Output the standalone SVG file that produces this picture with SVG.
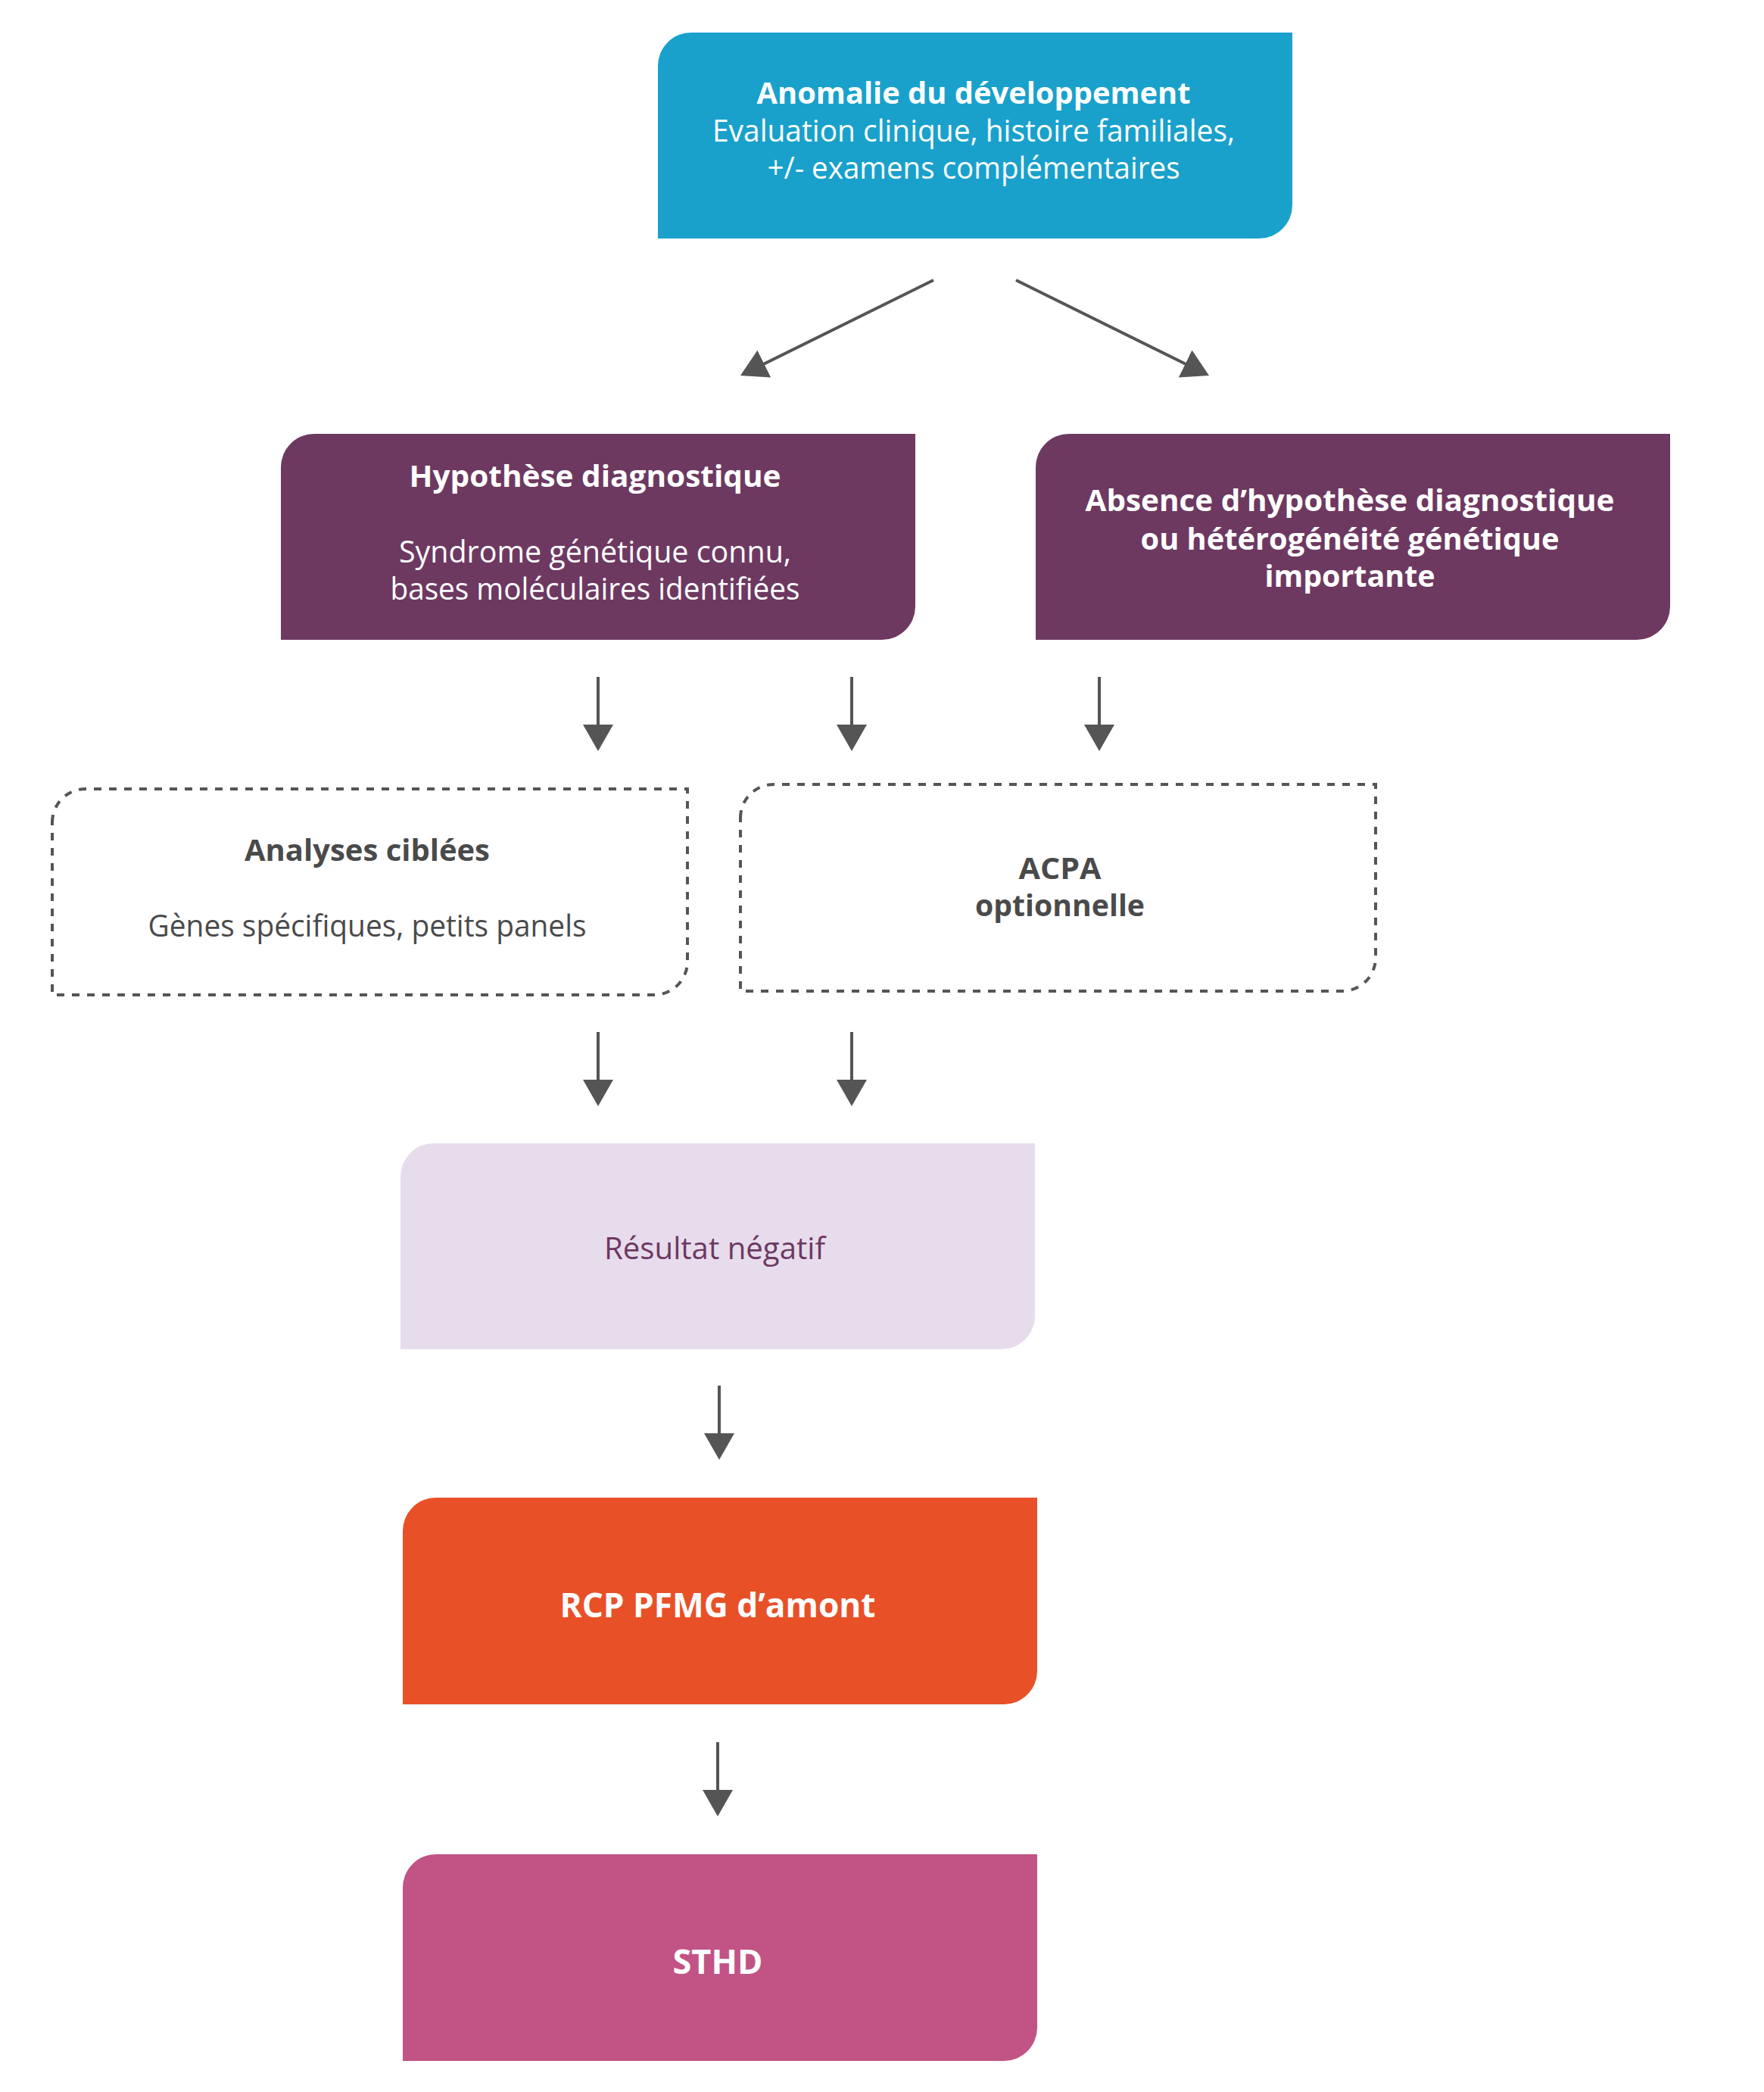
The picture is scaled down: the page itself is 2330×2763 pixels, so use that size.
<svg xmlns="http://www.w3.org/2000/svg" width="2330" height="2763" viewBox="0 0 2330 2763">
<defs>
<marker id="arr" markerUnits="userSpaceOnUse" viewBox="0 0 35 40" refX="31" refY="20" markerWidth="35" markerHeight="40" orient="auto">
<path d="M0,0 L35,20 L0,40 Z" fill="#555555"/>
</marker>
<style>
text{font-family:"Open Sans","Noto Sans","Liberation Sans",sans-serif;font-size:40px;text-anchor:middle}
.b{font-weight:700}
.w{fill:#ffffff}
.g{fill:#4a4a4a}
.p{fill:#6d3961}
.big{font-size:44px}
.dash{fill:none;stroke:#555555;stroke-width:4;stroke-dasharray:10 10}
.conn line{stroke:#555555;stroke-width:4;marker-end:url(#arr)}
</style>
</defs>
<rect width="2330" height="2763" fill="#ffffff"/>

<g id="n-anomalie">
<path d="M869,87 A44,44 0 0 1 913,43 H1707 V271 A44,44 0 0 1 1663,315 H869 Z" fill="#19a1cc"/>
<text class="b w" x="1286" y="137" textLength="573" lengthAdjust="spacingAndGlyphs">Anomalie du développement</text>
<text class="w" x="1286" y="187" textLength="690" lengthAdjust="spacingAndGlyphs">Evaluation clinique, histoire familiales,</text>
<text class="w" x="1286" y="236" textLength="545" lengthAdjust="spacingAndGlyphs">+/- examens complémentaires</text>
</g>

<g id="n-hypothese">
<path d="M371,617 A44,44 0 0 1 415,573 H1209 V801 A44,44 0 0 1 1165,845 H371 Z" fill="#6d3961"/>
<text class="b w" x="786" y="643" textLength="491" lengthAdjust="spacingAndGlyphs">Hypothèse diagnostique</text>
<text class="w" x="786" y="743" textLength="518" lengthAdjust="spacingAndGlyphs">Syndrome génétique connu,</text>
<text class="w" x="786" y="792" textLength="541" lengthAdjust="spacingAndGlyphs">bases moléculaires identifiées</text>
</g>

<g id="n-absence">
<path d="M1368,617 A44,44 0 0 1 1412,573 H2206 V801 A44,44 0 0 1 2162,845 H1368 Z" fill="#6d3961"/>
<text class="b w" x="1783" y="675" textLength="699" lengthAdjust="spacingAndGlyphs">Absence d’hypothèse diagnostique</text>
<text class="b w" x="1783" y="726" textLength="553" lengthAdjust="spacingAndGlyphs">ou hétérogénéité génétique</text>
<text class="b w" x="1783" y="775" textLength="225" lengthAdjust="spacingAndGlyphs">importante</text>
</g>

<g id="n-analyses">
<path class="dash" d="M69,1086 A44,44 0 0 1 113,1042 H908 V1270 A44,44 0 0 1 864,1314 H69 Z"/>
<text class="b g" x="485" y="1137" textLength="324" lengthAdjust="spacingAndGlyphs">Analyses ciblées</text>
<text class="g" x="485" y="1237" textLength="579" lengthAdjust="spacingAndGlyphs">Gènes spécifiques, petits panels</text>
</g>

<g id="n-acpa">
<path class="dash" d="M978,1080 A44,44 0 0 1 1022,1036 H1817 V1265 A44,44 0 0 1 1773,1309 H978 Z"/>
<text class="b g" x="1400" y="1161" textLength="109" lengthAdjust="spacingAndGlyphs">ACPA</text>
<text class="b g" x="1400" y="1210" textLength="224" lengthAdjust="spacingAndGlyphs">optionnelle</text>
</g>

<g id="n-resultat">
<path d="M529,1554 A44,44 0 0 1 573,1510 H1367 V1738 A44,44 0 0 1 1323,1782 H529 Z" fill="#e7dcec"/>
<text class="p" x="944" y="1663" textLength="292" lengthAdjust="spacingAndGlyphs">Résultat négatif</text>
</g>

<g id="n-rcp">
<path d="M532,2022 A44,44 0 0 1 576,1978 H1370 V2207 A44,44 0 0 1 1326,2251 H532 Z" fill="#e85027"/>
<text class="b w big" x="948" y="2136" textLength="417" lengthAdjust="spacingAndGlyphs">RCP PFMG d’amont</text>
</g>

<g id="n-sthd">
<path d="M532,2493 A44,44 0 0 1 576,2449 H1370 V2678 A44,44 0 0 1 1326,2722 H532 Z" fill="#c25385"/>
<text class="b w big" x="948" y="2607" textLength="119" lengthAdjust="spacingAndGlyphs">STHD</text>
</g>

<g id="connectors" class="conn">
<line x1="1233" y1="370" x2="981.6" y2="494.2"/>
<line x1="1342" y1="370" x2="1593.4" y2="494.2"/>
<line x1="790" y1="894" x2="790" y2="988"/>
<line x1="1125" y1="894" x2="1125" y2="988"/>
<line x1="1452" y1="894" x2="1452" y2="988"/>
<line x1="790" y1="1363" x2="790" y2="1457"/>
<line x1="1125" y1="1363" x2="1125" y2="1457"/>
<line x1="950" y1="1830" x2="950" y2="1924"/>
<line x1="948" y1="2301" x2="948" y2="2395"/>
</g>
</svg>
